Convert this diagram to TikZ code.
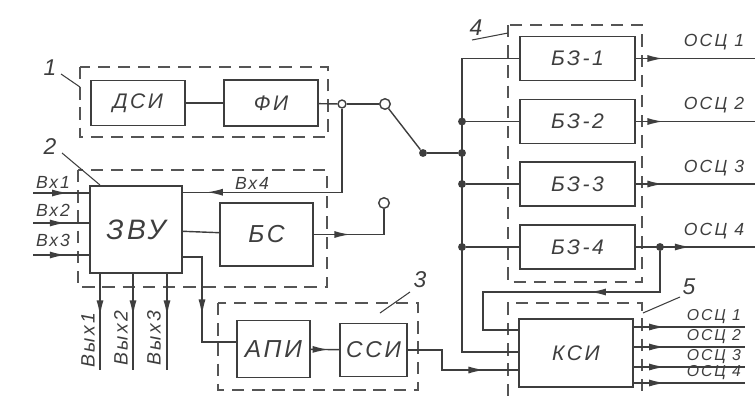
\documentclass[tikz,border=0pt]{standalone}
\usepackage{fontspec}
\setmainfont{Liberation Sans}
\newfontfamily\hand{Liberation Sans}[LetterSpace=12]
\usepackage{tikz}
\usetikzlibrary{arrows.meta, calc, decorations.markings}
\definecolor{inkgray}{RGB}{62,62,62}
\definecolor{dashgray}{RGB}{85,85,85}
\tikzset{
  unit/.style={rectangle, draw=inkgray, line width=0.9pt, inner sep=0pt,
    font=\hand\itshape\fontsize{12}{14}\selectfont, text=inkgray},
  bzbox/.style={unit, minimum width=2.3cm, minimum height=0.88cm},
  group/.style={draw=dashgray, line width=0.9pt, dash pattern=on 7pt off 4.5pt},
  wire/.style={draw=inkgray, line width=0.8pt},
  flow/.style={wire, postaction={decorate}, decoration={markings,
    mark=at position #1 with {\arrow{Latex[length=9pt,width=4pt]}}}},
  flow/.default=0.5,
  jdot/.style={circle, fill=inkgray, inner sep=0pt, minimum size=4.5pt},
  contact/.style={circle, draw=inkgray, fill=white, line width=0.8pt,
    inner sep=0pt, minimum size=6pt},
  tag/.style={font=\hand\itshape\fontsize{9}{10}\selectfont, text=inkgray, inner sep=1pt},
  num/.style={font=\itshape\fontsize{13}{15}\selectfont, text=inkgray},
  lead/.style={wire, line width=0.6pt}
}

\begin{document}
\begin{tikzpicture}[x=0.02cm, y=-0.02cm]
  \useasboundingbox (0,0) rectangle (755,396);

  % dashed groups
  \draw[group] (80,67) rectangle (328,137);
  \draw[group] (78,170) rectangle (327,287);
  \draw[group] (218,303) rectangle (418,390);
  \draw[group] (508,25) rectangle (642,282);
  \draw[group] (508,396) -- (508,303) -- (642,303) -- (642,396);

  % group numbers
  \node[num] (n1) at (50,68) {1};
  \draw[lead] (61,74) -- (80,87);
  \node[num] (n2) at (50,147) {2};
  \draw[lead] (62,153) -- (100,185);
  \node[num] (n3) at (420,280) {3};
  \draw[lead] (410,292) -- (380,313);
  \node[num] (n4) at (476,28) {4};
  \draw[lead] (472,40) -- (508,33);
  \node[num] (n5) at (689,287) {5};
  \draw[lead] (680,297) -- (643,313);

  % blocks
  \node[unit, minimum width=1.88cm, minimum height=0.9cm] (dsi) at (138,103) {ДСИ};
  \node[unit, minimum width=1.88cm, minimum height=0.92cm] (fi) at (271,103) {ФИ};
  \node[unit, minimum width=1.84cm, minimum height=1.74cm,
    font=\hand\itshape\fontsize{16}{18}\selectfont] (zvu) at (136,229.5) {ЗВУ};
  \node[unit, minimum width=1.86cm, minimum height=1.26cm,
    font=\hand\itshape\fontsize{14}{16}\selectfont] (bs) at (266.5,234.5) {БС};
  \node[unit, minimum width=1.46cm, minimum height=1.14cm,
    font=\hand\itshape\fontsize{14}{16}\selectfont] (api) at (273.5,349) {АПИ};
  \node[unit, minimum width=1.34cm, minimum height=1.06cm,
    font=\hand\itshape\fontsize{13}{15}\selectfont] (ssi) at (373.5,350) {ССИ};
  \node[bzbox] (bz1) at (577.5,58.5) {БЗ-1};
  \node[bzbox] (bz2) at (577.5,121.5) {БЗ-2};
  \node[bzbox] (bz3) at (577.5,184) {БЗ-3};
  \node[bzbox] (bz4) at (577.5,247) {БЗ-4};
  \node[unit, minimum width=2.28cm, minimum height=1.36cm] (ksi) at (576,353) {КСИ};

  % switch
  \node[contact, minimum size=4.5pt] (jc) at (342,104) {};
  \node[contact] (ca) at (385,104) {};
  \node[contact] (cb) at (384,203) {};
  \node[jdot] (piv) at (423,153) {};

  % bus
  \coordinate (bend) at (462,352);
  \node[jdot] (j0) at (piv -| bend) {};
  \node[jdot] (j2) at (bz2.west -| bend) {};
  \node[jdot] (j3) at (bz3.west -| bend) {};
  \node[jdot] (j4) at (bz4.west -| bend) {};

  \draw[wire] (dsi) -- (fi);
  \draw[wire] (fi) -- (jc);
  \draw[wire] (jc) -- (ca);
  \draw[wire] (ca) -- (piv);
  \draw[wire] (piv) -- (j0);
  \draw[wire] (bz1.west) -| (bend) -- (bend -| ksi.west);
  \draw[wire] (j2) -- (bz2.west);
  \draw[wire] (j3) -- (bz3.west);
  \draw[wire] (j4) -- (bz4.west);

  % inputs of ZVU
  \coordinate (in1) at (33,193);
  \coordinate (in2) at (33,223);
  \coordinate (in3) at (33,255);
  \draw[flow=0.62] (in1) -- (in1 -| zvu.west);
  \draw[flow=0.58] (in2) -- (in2 -| zvu.west);
  \draw[flow=0.58] (in3) -- (in3 -| zvu.west);
  \node[tag, anchor=south west, font=\hand\itshape\fontsize{10}{11}\selectfont] (lin1) at (34,191) {Вх1};
  \node[tag, anchor=south west, font=\hand\itshape\fontsize{10}{11}\selectfont] (lin2) at (34,219) {Вх2};
  \node[tag, anchor=south west, font=\hand\itshape\fontsize{10}{11}\selectfont] (lin3) at (34,249) {Вх3};
  \draw[flow=0.9] (jc) |- ($(zvu.north east)+(0,7)$);
  \node[tag, anchor=south, font=\hand\itshape\fontsize{10}{11}\selectfont] (lin4) at (252,192) {Вх4};

  % ZVU outputs
  \draw[wire] (zvu) -- (bs);
  \coordinate (za) at (202,342);
  \draw[flow=0.56] ($(zvu.east)+(0,27.5)$) -| (za) -- (za -| api.west);
  \coordinate (out1) at (100,370);
  \coordinate (out2) at (133,370);
  \coordinate (out3) at (167,370);
  \draw[flow=0.44] (out1 |- zvu.south) -- (out1);
  \draw[flow=0.44] (out2 |- zvu.south) -- (out2);
  \draw[flow=0.44] (out3 |- zvu.south) -- (out3);
  \node[tag, rotate=90, font=\hand\itshape\fontsize{11}{12}\selectfont] (lout1) at (88,340) {Вых1};
  \node[tag, rotate=90, font=\hand\itshape\fontsize{11}{12}\selectfont] (lout2) at (121,338) {Вых2};
  \node[tag, rotate=90, font=\hand\itshape\fontsize{11}{12}\selectfont] (lout3) at (154,338) {Вых3};

  \draw[flow=0.38] (bs.east) -| (cb);

  % measuring channel
  \draw[flow=0.62] (api) -- (ssi);
  \coordinate (sk) at (442,370);
  \draw[flow=0.74] (ssi.east) -| (sk) -- (sk -| ksi.west);

  % BZ outputs
  \coordinate (o1) at (755,58.5);
  \coordinate (o2) at (755,121.5);
  \coordinate (o3) at (755,184);
  \coordinate (o4) at (755,247);
  \draw[flow=0.23] (bz1.east) -- (o1);
  \draw[flow=0.23] (bz2.east) -- (o2);
  \draw[flow=0.23] (bz3.east) -- (o3);
  \draw[flow=0.46] (bz4.east) -- (o4);
  \node[tag, anchor=south, font=\hand\itshape\fontsize{10}{11}\selectfont] (lo1) at (714,52) {ОСЦ 1};
  \node[tag, anchor=south, font=\hand\itshape\fontsize{10}{11}\selectfont] (lo2) at (714,115) {ОСЦ 2};
  \node[tag, anchor=south, font=\hand\itshape\fontsize{10}{11}\selectfont] (lo3) at (714,178) {ОСЦ 3};
  \node[tag, anchor=south, font=\hand\itshape\fontsize{10}{11}\selectfont] (lo4) at (714,241) {ОСЦ 4};

  % feedback into KSI
  \node[jdot] (jf) at (660,247) {};
  \coordinate (fb) at (483,292);
  \draw[flow=0.38] (jf) |- (fb) |- ($(ksi.west)+(0,-23)$);

  % KSI outputs
  \coordinate (k1) at (745,327);
  \coordinate (k2) at (745,347);
  \coordinate (k3) at (745,367);
  \coordinate (k4) at (745,383);
  \draw[flow=0.28] (ksi.east |- k1) -- (k1);
  \draw[flow=0.28] (ksi.east |- k2) -- (k2);
  \draw[flow=0.28] (ksi.east |- k3) -- (k3);
  \draw[flow=0.28] (ksi.east |- k4) -- (k4);
  \node[tag, anchor=south] (lk1) at (714,326) {ОСЦ 1};
  \node[tag, anchor=south] (lk2) at (714,346) {ОСЦ 2};
  \node[tag, anchor=south] (lk3) at (714,366) {ОСЦ 3};
  \node[tag, anchor=south] (lk4) at (714,382) {ОСЦ 4};
\end{tikzpicture}
\end{document}
